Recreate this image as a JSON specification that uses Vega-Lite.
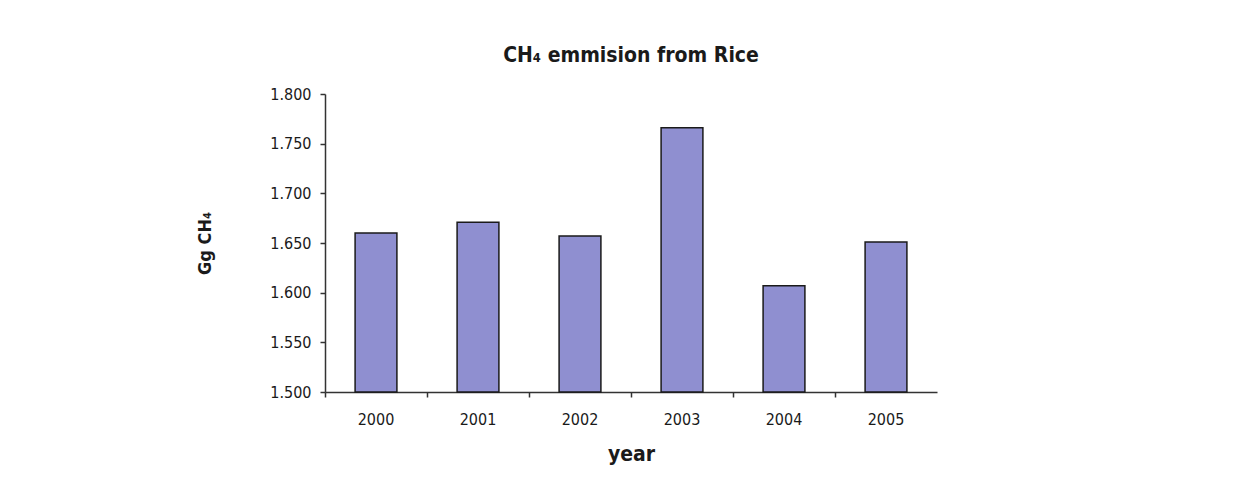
{
  "$schema": "https://vega.github.io/schema/vega-lite/v6.json",
  "width": 612,
  "height": 298,
  "autosize": {"type": "none"},
  "padding": {"left": 325, "top": 94, "right": 301, "bottom": 90},
  "background": "white",
  "config": {
    "view": {"stroke": null},
    "font": "DejaVu Sans Condensed"
  },
  "title": {
    "text": "CH₄ emmision from Rice",
    "font": "DejaVu Sans Condensed",
    "fontSize": 21,
    "fontWeight": "bold",
    "color": "#1a1a1a",
    "anchor": "middle",
    "offset": 20
  },
  "data": {
    "values": [
      {"year": "2000", "value": 1.660},
      {"year": "2001", "value": 1.671},
      {"year": "2002", "value": 1.657},
      {"year": "2003", "value": 1.766},
      {"year": "2004", "value": 1.607},
      {"year": "2005", "value": 1.651}
    ]
  },
  "mark": {"type": "bar", "fill": "#8f8fd0", "stroke": "#1a1a1a", "strokeWidth": 1.5, "width": {"band": 0.41}},
  "encoding": {
    "x": {
      "field": "year",
      "type": "ordinal",
      "title": "year",
      "scale": {"paddingInner": 0, "paddingOuter": 0},
      "axis": {
        "bandPosition": 0,
        "labelAngle": 0,
        "labelFont": "DejaVu Sans Condensed",
        "labelFontSize": 16,
        "labelColor": "#1a1a1a",
        "labelPadding": 14,
        "labelAlign": "center",
        "tickSize": 5,
        "tickColor": "#333333",
        "tickWidth": 1.5,
        "domainColor": "#333333",
        "domainWidth": 1.5,
        "titleFont": "DejaVu Sans Condensed",
        "titleFontSize": 21,
        "titleFontWeight": "bold",
        "titleColor": "#1a1a1a",
        "titlePadding": 16,
        "grid": false
      }
    },
    "y": {
      "field": "value",
      "type": "quantitative",
      "title": "Gg CH₄",
      "scale": {"domain": [1.5, 1.8], "zero": false, "nice": false},
      "axis": {
        "values": [1.5, 1.55, 1.6, 1.65, 1.7, 1.75, 1.8],
        "format": ".3f",
        "labelFont": "DejaVu Sans Condensed",
        "labelFontSize": 16,
        "labelColor": "#1a1a1a",
        "labelPadding": 9,
        "tickSize": 5,
        "tickColor": "#333333",
        "tickWidth": 1.5,
        "domainColor": "#333333",
        "domainWidth": 1.5,
        "titleFont": "DejaVu Sans Condensed",
        "titleFontSize": 18,
        "titleFontWeight": "bold",
        "titleColor": "#1a1a1a",
        "titlePadding": 55,
        "grid": false
      }
    },
    "y2": {"datum": 1.5}
  }
}
